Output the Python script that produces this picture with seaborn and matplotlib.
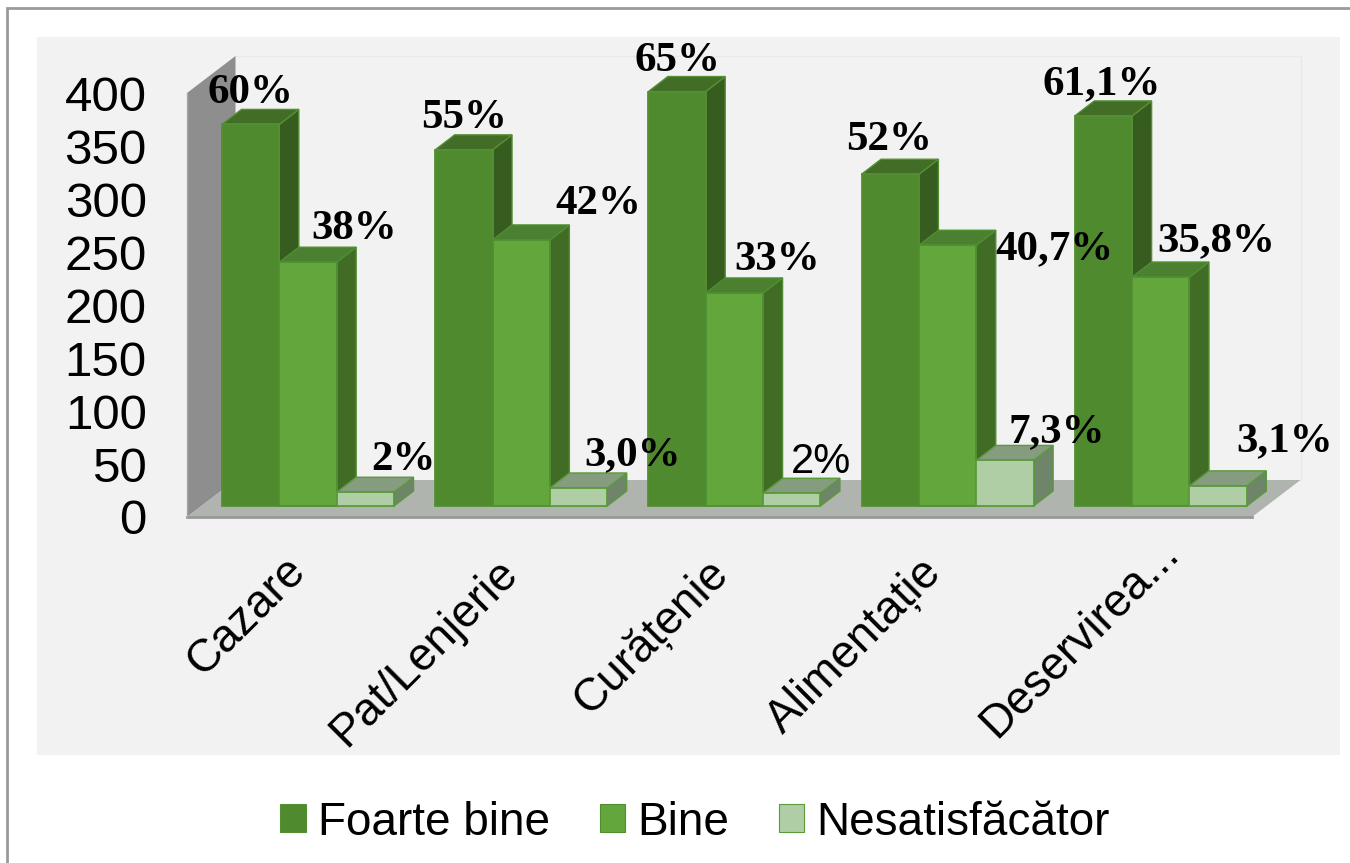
import matplotlib
matplotlib.use("Agg")
import matplotlib.pyplot as plt
from matplotlib.patches import Polygon, Patch, Rectangle
import pandas as pd
import seaborn as sns

categories = ['Cazare', 'Pat/Lenjerie', 'Curățenie', 'Alimentație', 'Deservirea...']
series_names = ['Foarte bine', 'Bine', 'Nesatisfăcător']
foarte_bine = [360, 336, 391, 313, 368]
bine = [230, 251, 201, 246, 216]
nesatisfacator = [13, 17, 12, 43, 19]
labels_fb = ['60%', '55%', '65%', '52%', '61,1%']
labels_b = ['38%', '42%', '33%', '40,7%', '35,8%']
labels_n = ['2%', '3,0%', '2%', '7,3%', '3,1%']
y_ticks = [0, 50, 100, 150, 200, 250, 300, 350, 400]

W, H = 1350, 863
front = ['#4f8a2e', '#62a63c', '#b0cea6']
side = ['#365c20', '#416c26', '#6f8569']
top = ['#426d26', '#4a8030', '#869c7f']
edge = ['#558f33', '#4f8f30', '#5a9a3a']

# label shifts from the bar top, in pixels (right, up)
shift_fb = [(0, 31), (0, 32), (0, 31), (-1, 34), (-2, 32)]
shift_b = [(46, 33), (77, 36), (43, 33), (107, -4), (55, 36)]
shift_n = [(38, 32), (54, 33), (29, 31), (52, 28), (66, 45)]
# where the end of each category label sits, in figure pixels
cat_ends = [(299, 564), (511, 566), (722, 566), (935, 566), (1172, 546)]


def px_axes(fig, left, right, y_bottom, y_top):
    return fig.add_axes([left / W, 1 - y_bottom / H, (right - left) / W, (y_bottom - y_top) / H])


df = pd.DataFrame({
    'cat': categories * 3,
    'serie': sum([[s] * 5 for s in series_names], []),
    'val': foarte_bine + bine + nesatisfacator,
})

plt.rcParams['font.family'] = ['Liberation Sans', 'DejaVu Sans']
fig = plt.figure(figsize=(W / 100, H / 100), dpi=100, facecolor='white')

# outer border and grey panel
fig.add_artist(Rectangle((7 / W, -0.1), 1.1, 1 - 8 / H + 0.1, transform=fig.transFigure,
                         fc='white', ec='#9a9a9a', lw=2, zorder=-2))
fig.add_artist(Rectangle((37 / W, 1 - 755 / H), (1340 - 37) / W, (755 - 37) / H,
                         transform=fig.transFigure, fc='#f2f2f2', ec='none', zorder=-1))

# value axis with wall and floor
ax_wall = px_axes(fig, 187, 1252, 517, 93)
ax_wall.set_xlim(0, 1065)
ax_wall.set_ylim(0, 400)
ax_wall.patch.set_alpha(0)
for s in ax_wall.spines.values():
    s.set_visible(False)
ax_wall.set_xticks([])
ax_wall.set_yticks(y_ticks)
ax_wall.tick_params(axis='y', length=0, pad=29, labelsize=35.5)
dx, dy = 48.5, 37 / 1.06
ax_wall.plot([dx, 1065 + dx, 1065 + dx], [400 + dy, 400 + dy, dy], color='#e9e9e9', lw=1, clip_on=False)
ax_wall.add_patch(Polygon([(0, 0), (dx, dy), (dx, 400 + dy), (0, 400)], fc='#8e8e8e', ec='none', clip_on=False))
ax_wall.add_patch(Polygon([(0, 0), (1065, 0), (1065 + dx, dy), (dx, dy)], fc='#afb4ae', ec='none', clip_on=False))
ax_wall.plot([0, 1065], [0, 0], color='#989898', lw=2, clip_on=False)
ax_wall.plot([0, 0], [0, 400], color='#a8a8a8', lw=1, clip_on=False)

# bars
ax = px_axes(fig, 201.4, 1267.4, 506, 82)
ax.patch.set_alpha(0)
sns.barplot(data=df, x='cat', y='val', hue='serie', order=categories, hue_order=series_names,
            palette=front, width=0.807, gap=0, saturation=1, legend=False, ax=ax)
ax.set_xlim(-0.5, 4.5)
ax.set_ylim(0, 400)
ax.axis('off')

ddx = 19.5 * 5 / 1066
ddy = 15 / 1.06
all_labels = [labels_fb, labels_b, labels_n]
all_shifts = [shift_fb, shift_b, shift_n]
for si, cont in enumerate(ax.containers):
    for ci, bar in enumerate(cont):
        x0, w, h = bar.get_x(), bar.get_width(), bar.get_height()
        z = 3 + ci * 3 + si * 0.3
        ax.add_patch(Polygon([(x0 + w, 0), (x0 + w + ddx, ddy), (x0 + w + ddx, h + ddy), (x0 + w, h)],
                             fc=side[si], ec=edge[si], lw=1, zorder=z, clip_on=False))
        ax.add_patch(Polygon([(x0, h), (x0 + w, h), (x0 + w + ddx, h + ddy), (x0 + ddx, h + ddy)],
                             fc=top[si], ec=edge[si], lw=1, zorder=z + 0.1, clip_on=False))
        bar.set_edgecolor(edge[si])
        bar.set_linewidth(1.3)
        bar.set_zorder(z + 0.2)
        bar.set_clip_on(False)
        sx, sy = all_shifts[si][ci]
        if si == 2 and ci == 2:
            ax.annotate(all_labels[si][ci], (x0 + w / 2, h), xytext=(sx * 0.72, sy * 0.72),
                        textcoords='offset points', ha='center', va='center', zorder=50,
                        fontsize=30, color='black', annotation_clip=False)
        else:
            ax.annotate(all_labels[si][ci], (x0 + w / 2, h), xytext=(sx * 0.72, sy * 0.72),
                        textcoords='offset points', ha='center', va='center', zorder=50,
                        fontsize=31, family='Liberation Serif', fontweight='bold', color='black',
                        annotation_clip=False)

# category labels
for name, (ex, ey) in zip(categories, cat_ends):
    fig.text(ex / W, 1 - ey / H, name, rotation=45, rotation_mode='anchor', ha='right', va='center',
             fontsize=33, color='black')

# legend
handles = [Patch(fc=front[i], ec=edge[i], lw=0.8, label=series_names[i]) for i in range(3)]
fig.legend(handles=handles, loc='center', bbox_to_anchor=(695 / W, 1 - 822.5 / H), ncol=3, frameon=False,
           fontsize=33, handlelength=0.56, handleheight=0.56, handletextpad=0.26, columnspacing=1.08,
           labelspacing=0)

fig.savefig('out.png', dpi=100, facecolor='white')
